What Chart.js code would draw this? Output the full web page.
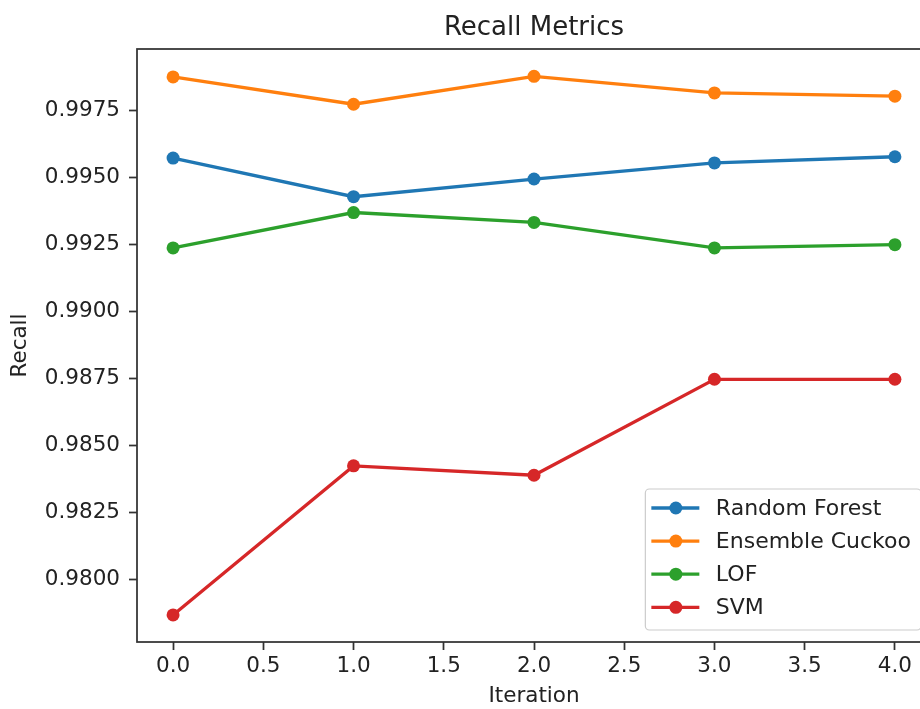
<!DOCTYPE html>
<html>
<head>
<meta charset="utf-8">
<title>Recall Metrics</title>
<script src="https://cdn.jsdelivr.net/npm/chart.js@4.4.1/dist/chart.umd.min.js"></script>
<style>
  html, body { margin: 0; padding: 0; background: #fff; overflow: hidden; }
  #wrap { width: 931px; height: 709px; }
</style>
</head>
<body>
<div id="wrap"><canvas id="recallChart" width="931" height="709"></canvas></div>
<script>
// Recall per iteration
const chartTitle = 'Recall Metrics';
const xTitle = 'Iteration';
const yTitle = 'Recall';
const iterations = [0, 1, 2, 3, 4];
const seriesNames = ['Random Forest', 'Ensemble Cuckoo', 'LOF', 'SVM'];
const randomForest = [0.99571, 0.99427, 0.99493, 0.99553, 0.99576];
const ensembleCuckoo = [0.99874, 0.99772, 0.99876, 0.99814, 0.99802];
const lof = [0.99236, 0.99368, 0.99331, 0.99236, 0.99248];
const svm = [0.97867, 0.98423, 0.98388, 0.98746, 0.98746];
const xTicks = [0.0, 0.5, 1.0, 1.5, 2.0, 2.5, 3.0, 3.5, 4.0];
const yTicks = [0.9800, 0.9825, 0.9850, 0.9875, 0.9900, 0.9925, 0.9950, 0.9975];

const seriesValues = [randomForest, ensembleCuckoo, lof, svm];
const seriesColors = ['#1f77b4', '#ff7f0e', '#2ca02c', '#d62728'];

const FONT = "'DejaVu Sans', sans-serif";
const FONT_SIZE = 21.5;
const TEXT = '#222222';
const SPINE = '#333333';

// matplotlib-like frame + centered title over the axes
const framePlugin = {
    id: 'frame',
    afterDatasetsDraw(chart) {
        const { ctx, chartArea: a } = chart;
        ctx.save();
        ctx.strokeStyle = SPINE;
        ctx.lineWidth = 1.75;
        ctx.strokeRect(a.left, a.top, a.right - a.left, a.bottom - a.top);
        ctx.restore();
    },
    afterDraw(chart) {
        const { ctx, chartArea: a } = chart;
        ctx.save();
        ctx.fillStyle = TEXT;
        ctx.font = `26px ${FONT}`;
        ctx.textAlign = 'center';
        ctx.textBaseline = 'alphabetic';
        ctx.fillText(chartTitle, (a.left + a.right) / 2, 35);
        ctx.restore();
    }
};

// legend box in the lower right, line + marker handles
const legendPlugin = {
    id: 'mplLegend',
    afterDraw(chart) {
        const { ctx, chartArea: a } = chart;
        const sets = chart.data.datasets;
        ctx.save();
        ctx.font = `22px ${FONT}`;
        const maxW = Math.max(...sets.map(d => ctx.measureText(d.label).width));
        const textOff = 70.5;
        const rowH = 33.1;
        const height = 141;
        const right = a.right - 10;
        const bottom = a.bottom - 12;
        const width = textOff + maxW + 10;
        const left = right - width;
        const top = bottom - height;

        ctx.beginPath();
        ctx.roundRect(left, top, width, height, 4);
        ctx.fillStyle = 'rgba(255,255,255,0.8)';
        ctx.fill();
        ctx.strokeStyle = '#cccccc';
        ctx.lineWidth = 1.2;
        ctx.stroke();

        sets.forEach((d, i) => {
            const y = top + 19 + i * rowH;
            ctx.strokeStyle = d.borderColor;
            ctx.lineWidth = 3.3;
            ctx.beginPath();
            ctx.moveTo(left + 6, y);
            ctx.lineTo(left + 54, y);
            ctx.stroke();
            ctx.fillStyle = d.borderColor;
            ctx.beginPath();
            ctx.arc(left + 30.5, y, 6.5, 0, Math.PI * 2);
            ctx.fill();
            ctx.fillStyle = TEXT;
            ctx.textAlign = 'left';
            ctx.textBaseline = 'middle';
            ctx.fillText(d.label, left + textOff, y + 1);
        });
        ctx.restore();
    }
};

const datasets = seriesNames.map((name, i) => ({
    label: name,
    data: iterations.map((x, j) => ({ x: x, y: seriesValues[i][j] })),
    borderColor: seriesColors[i],
    backgroundColor: seriesColors[i],
    pointBackgroundColor: seriesColors[i],
    pointBorderWidth: 0,
    pointRadius: 6.5,
    borderWidth: 3.3,
    tension: 0,
    fill: false,
    order: seriesNames.length - i
}));

const axisCommon = {
    grid: {
        display: true,
        drawOnChartArea: false,
        drawTicks: true,
        tickLength: 8,
        tickColor: SPINE,
        tickWidth: 1.75
    },
    border: { display: false }
};

new Chart(document.getElementById('recallChart').getContext('2d'), {
    type: 'line',
    data: { datasets: datasets },
    options: {
        responsive: false,
        animation: false,
        events: [],
        layout: { autoPadding: false, padding: { top: 49, right: 0, bottom: 0, left: 0 } },
        plugins: {
            legend: { display: false },
            title: { display: false },
            tooltip: { enabled: false }
        },
        scales: {
            x: {
                ...axisCommon,
                type: 'linear',
                min: -0.2,
                max: 4.2,
                afterBuildTicks: s => { s.ticks = xTicks.map(v => ({ value: v })); },
                afterFit: s => { s.height = 67; s.paddingLeft = 0; s.paddingRight = 0; },
                ticks: {
                    color: TEXT,
                    font: { family: FONT, size: FONT_SIZE },
                    padding: 4,
                    maxRotation: 0,
                    autoSkip: false,
                    callback: v => Number(v).toFixed(1)
                },
                title: {
                    display: true,
                    text: xTitle,
                    color: TEXT,
                    font: { family: FONT, size: FONT_SIZE },
                    padding: { top: 0, bottom: 0 }
                }
            },
            y: {
                ...axisCommon,
                type: 'linear',
                min: 0.97766,
                max: 0.99978,
                afterBuildTicks: s => { s.ticks = yTicks.map(v => ({ value: v })); },
                afterFit: s => { s.width = 137; s.paddingTop = 0; s.paddingBottom = 0; },
                ticks: {
                    color: TEXT,
                    font: { family: FONT, size: FONT_SIZE },
                    padding: 9,
                    autoSkip: false,
                    callback: v => Number(v).toFixed(4)
                },
                title: {
                    display: true,
                    text: yTitle,
                    color: TEXT,
                    font: { family: FONT, size: FONT_SIZE },
                    padding: { top: 8, bottom: 0 }
                }
            }
        }
    },
    plugins: [framePlugin, legendPlugin]
});
</script>
</body>
</html>
